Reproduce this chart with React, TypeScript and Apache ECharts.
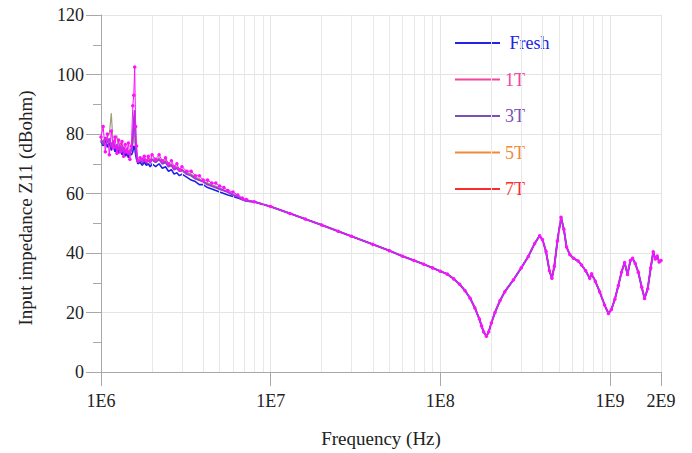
import React, { useEffect, useRef } from "react";
import * as echarts from "echarts";

// Frequencies (MHz) of the noisy low-frequency part, where the five curves differ
const lowFreqMHz = [1.00, 1.03, 1.06, 1.09, 1.12, 1.15, 1.18, 1.21, 1.24, 1.27, 1.30, 1.33, 1.36, 1.39, 1.42, 1.45, 1.48, 1.51, 1.54, 1.56, 1.58, 1.60, 1.62, 1.65, 1.70, 1.75, 1.80, 1.85, 1.90, 1.95, 2.00, 2.10, 2.20, 2.30, 2.40, 2.50, 2.60, 2.70, 2.80, 2.90, 3.00, 3.20, 3.40, 3.60, 3.80, 4.00, 4.25, 4.50, 4.75, 5.00, 5.30, 5.60, 6.00, 6.40, 6.80, 7.20];

const freshLow = [77.5, 76, 78.5, 75.5, 77, 74.5, 76, 74, 75.5, 73.5, 75, 73, 74.5, 72.5, 74, 72, 73.5, 73, 74, 76, 75.5, 73, 71.5, 70, 70.5, 69.5, 70.5, 69.5, 70, 69, 70, 69, 70, 68.5, 69, 67.5, 68, 66.5, 67, 66, 66.5, 65.5, 64.5, 64, 63, 63, 62, 61.5, 61, 60.5, 60, 59.5, 59, 58.5, 58, 57.5];
const oneTLow = [79, 82.5, 74, 80, 73, 81, 75.5, 79, 73.5, 78, 74, 77.5, 72.5, 76.5, 74, 77, 71.5, 76, 89.5, 93, 102.5, 82.5, 76, 71, 72, 71.5, 72.5, 71, 72.5, 71, 73, 71.5, 73, 71, 72, 70, 71, 69, 70, 68, 69, 67.5, 67.5, 66, 66, 64.5, 64.5, 63.5, 63.5, 62.5, 62, 61, 60.5, 59.5, 58.5, 58];
const threeTLow = [78, 76.5, 79, 77, 78.5, 76, 77.5, 75, 76.5, 74.5, 76, 74, 75.5, 73.5, 75, 73, 74, 74.5, 79, 84, 88, 77, 73, 70.5, 71, 70.5, 71.5, 70.5, 71, 70.5, 71.5, 70.5, 71.5, 70, 70.5, 69, 69.5, 68, 68.5, 67.5, 68, 66.5, 66, 65, 64.5, 64, 63, 62.5, 62, 61.5, 61, 60.5, 59.5, 59, 58, 57.5];
const fiveTLow = [77, 78, 76, 79, 80, 87, 76, 78, 79.5, 75, 76.5, 74.5, 76, 74, 75.5, 73.5, 75, 74, 76.5, 82, 80, 75, 72.5, 70, 71.5, 70, 72, 70.5, 71.5, 70, 72.5, 71, 72, 70.5, 71.5, 69.5, 70, 68.5, 69, 67.5, 68, 67, 66.5, 65.5, 65, 64, 63.5, 63, 62.5, 62, 61, 60.5, 60, 59, 58.5, 57.5];
const sevenTLow = [78.5, 77, 77.5, 76, 77, 75.5, 78, 74.5, 76, 74, 77, 73.5, 75, 74, 72.5, 74.5, 73, 75, 77, 85, 86, 76, 72, 70.5, 71, 70.5, 71, 70, 72, 70.5, 71, 70.5, 72, 70, 71, 69, 70, 68, 69, 67.5, 67.5, 67, 66.5, 65, 64.5, 64, 63.5, 62.5, 62, 61.5, 61, 60.5, 59.5, 59, 58, 57.5];

// Frequencies (MHz) of the part where all curves coincide
const tailFreqMHz = [8, 10, 13, 16, 20, 25, 30, 40, 50, 60, 70, 80, 90, 100, 110, 120, 130, 140, 150, 160, 170, 175, 180, 187, 193, 200, 210, 225, 240, 270, 300, 330, 360, 385, 400, 420, 440, 455, 470, 490, 515, 535, 555, 580, 610, 650, 680, 720, 760, 780, 820, 870, 930, 980, 1020, 1070, 1120, 1170, 1220, 1270, 1320, 1360, 1410, 1470, 1540, 1600, 1670, 1740, 1800, 1850, 1900, 1950, 2000];
const tailValues = [57.2, 55.6, 53.3, 51.4, 49.4, 47.3, 45.6, 42.9, 40.8, 38.9, 37.5, 36.2, 35.0, 33.9, 32.9, 31.3, 29.5, 27.3, 24.8, 21.5, 17.8, 15.5, 13.5, 12.0, 13.5, 16.5, 20.0, 24.0, 27.0, 31.0, 35.0, 38.8, 43.2, 45.8, 44.5, 40.5, 34.0, 31.5, 35.5, 44.0, 52.0, 48.0, 42.0, 39.5, 38.2, 37.3, 36.0, 34.0, 31.5, 33.0, 30.5, 27.0, 22.5, 19.7, 21.0, 24.5, 29.0, 33.5, 36.8, 32.8, 37.5, 38.2, 36.5, 33.5, 28.5, 24.7, 28.0, 35.0, 40.4, 38.0, 39.0, 37.0, 37.5];

const seriesNames = ["Fresh", "1T", "3T", "5T", "7T"];
const legendColors = ["#2323e6", "#f2459c", "#7b4fb6", "#ee8a3c", "#fb2c2c"];
const yTicks = [0, 20, 40, 60, 80, 100, 120];
const minorGridMultipliers = [2, 3, 4, 5, 6, 7, 8, 9];
const minorGridDecades = [1e6, 1e7, 1e8];

const FONT = '"Liberation Serif", "Times New Roman", serif';

function build(low: number[]): [number, number][] {
  const f = lowFreqMHz.concat(tailFreqMHz);
  const v = low.concat(tailValues);
  return f.map((m, i) => [m * 1e6, v[i]]);
}

function fmtSci(v: number): string {
  const e = Math.floor(Math.log10(v) + 1e-9);
  const m = Math.round(v / Math.pow(10, e));
  return m + "E" + e;
}

export default function App() {
  const ref = useRef<HTMLDivElement>(null);
  useEffect(() => {
    document.body.style.margin = "0";
    if (!ref.current) return;
    const chart = echarts.init(ref.current, null, { renderer: "svg" });
    const minorLines: { xAxis: number }[] = [];
    minorGridDecades.forEach((d) => minorGridMultipliers.forEach((m) => minorLines.push({ xAxis: m * d })));

    const lineSeries = (name: string, low: number[], color: string, width: number, z: number, symbol?: boolean) => ({
      name,
      type: "line",
      data: build(low),
      z,
      showSymbol: !!symbol,
      symbol: "circle",
      symbolSize: symbol ? 3.5 : 0,
      itemStyle: { color },
      lineStyle: { color, width },
      emphasis: { disabled: true },
    });

    chart.setOption({
      animation: false,
      backgroundColor: "#ffffff",
      grid: { left: 101, right: 31, top: 15, bottom: 81 },
      legend: {
        orient: "vertical",
        left: 455,
        top: 34,
        padding: 0,
        itemWidth: 45,
        itemHeight: 2,
        itemGap: 18.5,
        icon: "rect",
        textStyle: { fontFamily: FONT, fontSize: 18, lineHeight: 18 },
        formatter: (n: string) => (n === "Fresh" ? " Fresh" : n),
        data: seriesNames.map((n, i) => ({
          name: n,
          itemStyle: { color: legendColors[i] },
          textStyle: { color: legendColors[i] },
        })),
      },
      xAxis: {
        type: "log",
        logBase: 10,
        min: 1e6,
        max: 2e9,
        name: "Frequency (Hz)",
        nameLocation: "middle",
        nameGap: 57,
        nameTextStyle: { fontFamily: FONT, fontSize: 19, color: "#222" },
        axisLine: { show: true, lineStyle: { color: "#a8a8a8", width: 1 } },
        axisTick: { show: true, length: 14, lineStyle: { color: "#a8a8a8" } },
        axisLabel: { fontFamily: FONT, fontSize: 18, color: "#222", margin: 20, formatter: fmtSci, showMaxLabel: true, showMinLabel: true },
        splitLine: { show: true, lineStyle: { color: "#e4e4e4", width: 1 } },
      },
      yAxis: {
        type: "value",
        min: yTicks[0],
        max: yTicks[yTicks.length - 1],
        interval: 20,
        axisLine: { show: true, lineStyle: { color: "#a8a8a8", width: 1 } },
        axisTick: { show: true, length: 15, lineStyle: { color: "#a8a8a8" } },
        minorTick: { show: true, splitNumber: 2, length: 8, lineStyle: { color: "#a8a8a8" } },
        axisLabel: { fontFamily: FONT, fontSize: 18, color: "#222", margin: 17 },
        splitLine: { show: true, lineStyle: { color: "#e4e4e4", width: 1 } },
      },
      graphic: [
        {
          type: "text",
          x: 25,
          y: 208,
          rotation: Math.PI / 2,
          style: {
            text: "Input impedance Z11 (dBohm)",
            font: '19px "Liberation Serif"',
            fontFamily: FONT,
            fontSize: 19,
            fill: "#222",
            align: "center",
            verticalAlign: "middle",
            textAlign: "center",
            textVerticalAlign: "middle",
          },
        },
      ],
      series: [
        {
          name: "grid",
          type: "line",
          data: [],
          z: 1,
          silent: true,
          markLine: {
            silent: true,
            symbol: ["none", "none"],
            label: { show: false },
            lineStyle: { color: "#e8e8e8", width: 1, type: "solid" },
            emphasis: { disabled: true },
            data: minorLines,
          },
        },
        lineSeries("7T", sevenTLow, "#fb2c2c", 1.2, 2),
        lineSeries("5T", fiveTLow, "#9aa07a", 1.2, 3),
        lineSeries("Fresh", freshLow, "#1e1ee8", 1.6, 4),
        lineSeries("3T", threeTLow, "#9a3ed6", 2, 5),
        lineSeries("1T", oneTLow, "#ff10ff", 1, 6, true),
      ],
    });
    return () => chart.dispose();
  }, []);
  return <div ref={ref} style={{ width: 692, height: 453 }} />;
}
